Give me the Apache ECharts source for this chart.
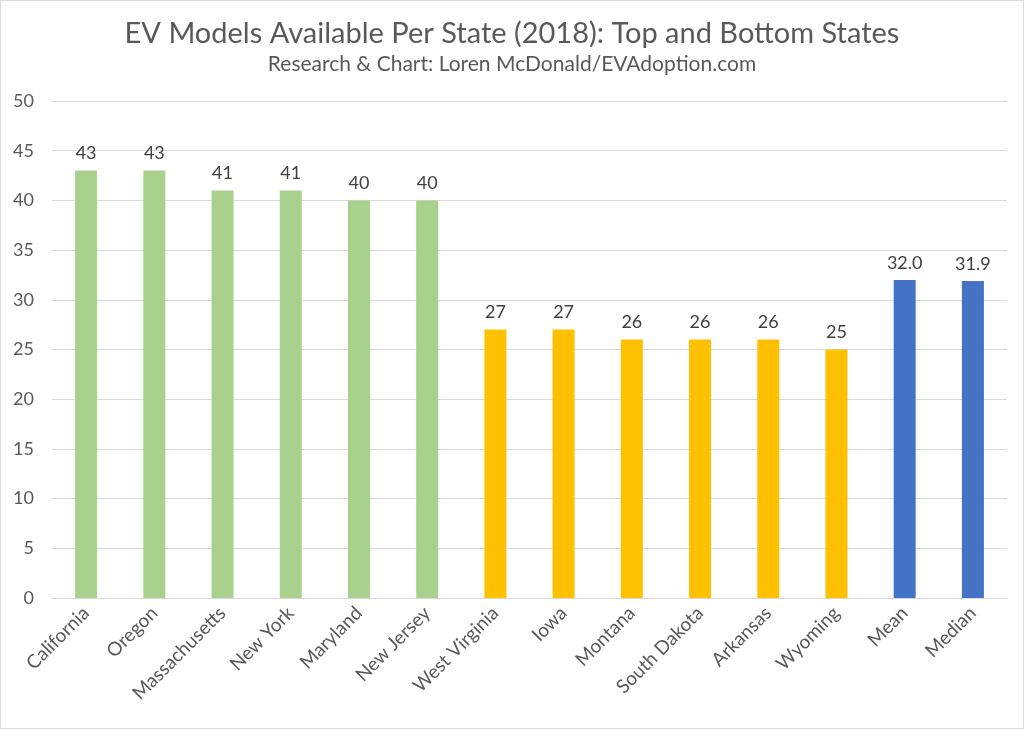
<!DOCTYPE html>
<html>
<head>
<meta charset="utf-8">
<script src="https://cdn.jsdelivr.net/npm/echarts@6/dist/echarts.min.js"></script>
<style>
html,body{margin:0;padding:0;background:#fff;}
#c{width:1022px;height:727px;border:1px solid #d9d9d9;}
</style>
</head>
<body>
<div id="c"></div>
<script>
const categories = ["California","Oregon","Massachusetts","New York","Maryland","New Jersey","West Virginia","Iowa","Montana","South Dakota","Arkansas","Wyoming","Mean","Median"];
const values = [43,43,41,41,40,40,27,27,26,26,26,25,32.0,31.9];
const groups = ["top","top","top","top","top","top","bottom","bottom","bottom","bottom","bottom","bottom","stat","stat"];
const groupColors = {top:"#A9D18E", bottom:"#FFC000", stat:"#4472C4"};
const yTicks = {min:0, max:50, interval:5};

const chart = echarts.init(document.getElementById('c'));
const font = "Lato, 'Open Sans', sans-serif";
chart.setOption({
  animation:false,
  textStyle:{fontFamily:font},
  title:{
    text:"EV Models Available Per State (2018): Top and Bottom States",
    subtext:"Research & Chart: Loren McDonald/EVAdoption.com",
    left:"center", top:13, itemGap:6,
    textStyle:{fontFamily:font,fontSize:29,fontWeight:"normal",color:"#595959"},
    subtextStyle:{fontFamily:font,fontSize:21,color:"#595959"}
  },
  grid:{left:51,right:16,top:100,bottom:130,containLabel:false},
  xAxis:{
    type:"category", data:categories,
    axisLine:{lineStyle:{color:"#d9d9d9"}},
    axisTick:{show:false},
    axisLabel:{rotate:45,interval:0,fontSize:19,color:"#595959",fontFamily:font,margin:12}
  },
  yAxis:{
    type:"value", min:yTicks.min, max:yTicks.max, interval:yTicks.interval,
    axisLine:{show:false}, axisTick:{show:false},
    splitLine:{lineStyle:{color:"#d9d9d9"}},
    axisLabel:{fontSize:18,color:"#595959",fontFamily:font,margin:18}
  },
  series:[{
    type:"bar", barWidth:22,
    data: values.map((v,i)=>({value:v,itemStyle:{color:groupColors[groups[i]]}})),
    label:{show:true,position:"top",fontSize:18,color:"#404040",fontFamily:font,distance:8,
      formatter:(p)=> groups[p.dataIndex]==="stat" ? p.value.toFixed(1) : String(p.value)}
  }]
});
</script>
</body>
</html>
